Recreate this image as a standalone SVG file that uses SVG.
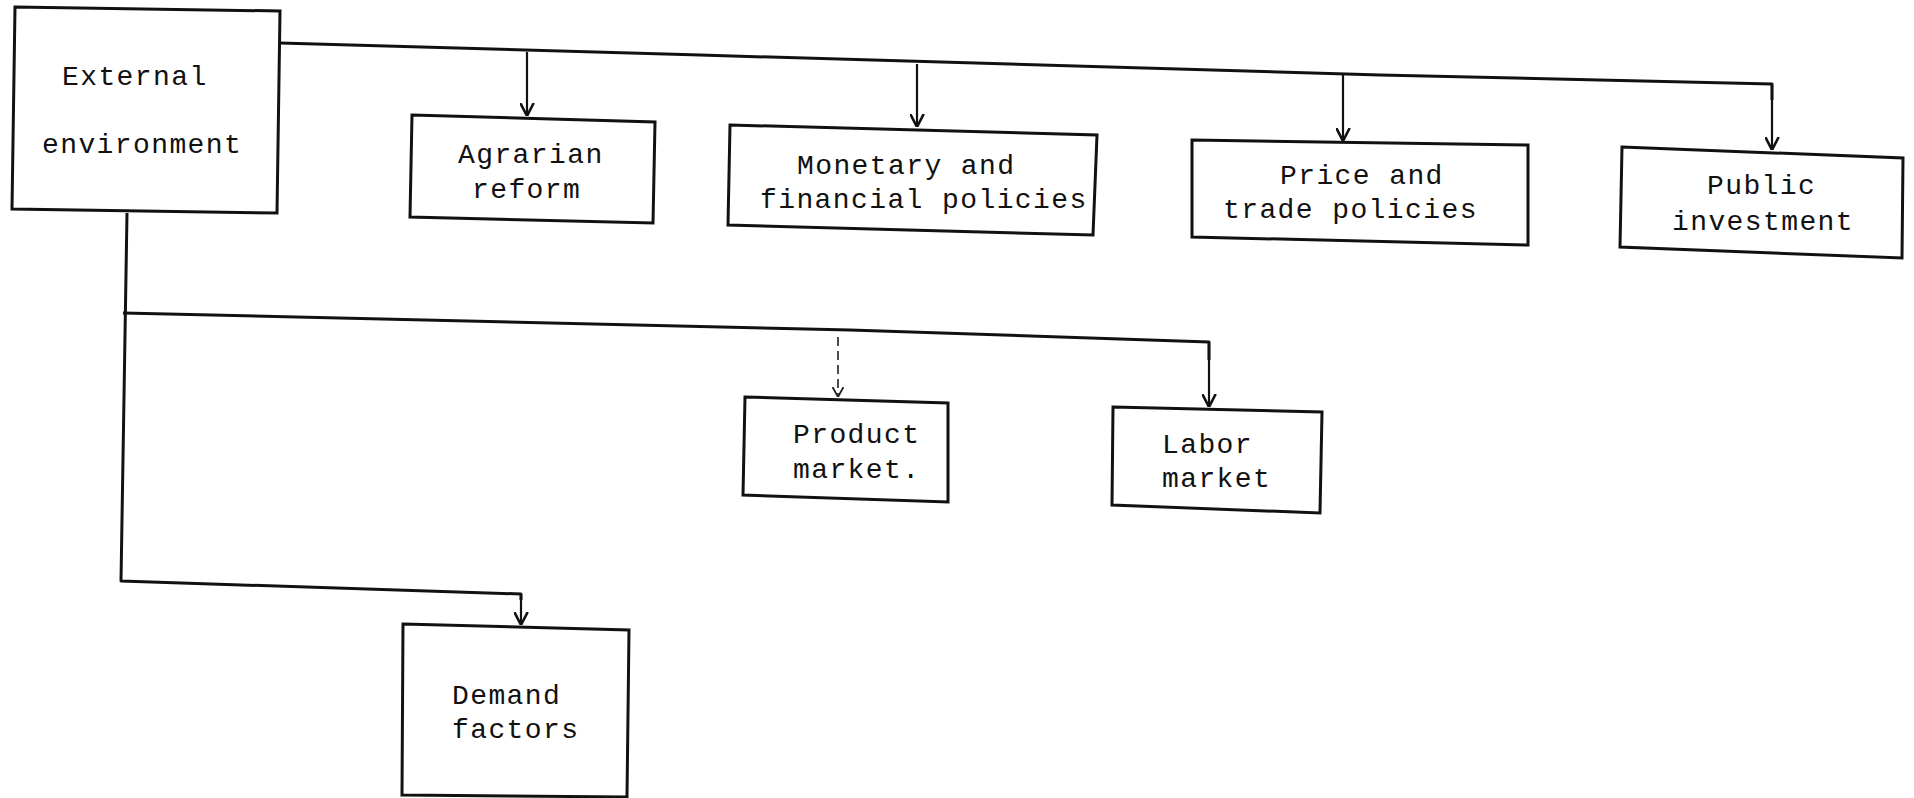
<svg xmlns="http://www.w3.org/2000/svg" width="1914" height="798" viewBox="0 0 1914 798">
<style>
.box{fill:#fff;stroke:#111;stroke-width:3;stroke-linejoin:miter}
.ln{fill:none;stroke:#111;stroke-width:3;stroke-linejoin:round}
.drop{fill:none;stroke:#111;stroke-width:2.2}
.dash{fill:none;stroke:#222;stroke-width:1.6;stroke-dasharray:9 5}
.t{font-family:"Liberation Mono","Courier New",monospace;font-size:28px;letter-spacing:1.4px;fill:#111}
</style>
<defs>
<marker id="ah" viewBox="0 0 13 15" refX="13" refY="7.5" markerWidth="13" markerHeight="15" markerUnits="userSpaceOnUse" orient="auto">
<path d="M0,0.8 L13,7.5 L0,14.2" fill="none" stroke="#111" stroke-width="2.6"/>
</marker>
<marker id="ahs" viewBox="0 0 10 12" refX="10" refY="6" markerWidth="10" markerHeight="12" markerUnits="userSpaceOnUse" orient="auto">
<path d="M0,0.5 L10,6 L0,11.5" fill="none" stroke="#222" stroke-width="1.8"/>
</marker>
</defs>
<rect width="1914" height="798" fill="#fff"/>
<g id="connectors">
<polyline class="ln" points="280,43 700,55 1380,75 1772,84 1772,100"/>
<line class="drop" x1="527" y1="52" x2="527" y2="116" marker-end="url(#ah)"/>
<line class="drop" x1="917" y1="64" x2="917" y2="127" marker-end="url(#ah)"/>
<line class="drop" x1="1343" y1="73" x2="1343" y2="141" marker-end="url(#ah)"/>
<line class="drop" x1="1772" y1="84" x2="1772" y2="150" marker-end="url(#ah)"/>
<polyline class="ln" points="127,213 121,581 521,594 521,600"/>
<line class="drop" x1="521" y1="594" x2="521" y2="625" marker-end="url(#ah)"/>
<polyline class="ln" points="123,313 850,330 1209,342 1209,360"/>
<line class="drop" x1="1209" y1="342" x2="1209" y2="407" marker-end="url(#ah)"/>
<line class="dash" x1="838" y1="337" x2="838" y2="397" marker-end="url(#ahs)"/>
</g>
<g id="external-environment">
<polygon class="box" points="15,7 280,11 277,213 12,209"/>
<text class="t" x="62" y="85">External</text>
<text class="t" x="42" y="153">environment</text>
</g>
<g id="agrarian-reform">
<polygon class="box" points="412,115 655,122 653,223 410,217"/>
<text class="t" x="458" y="163">Agrarian</text>
<text class="t" x="472" y="198">reform</text>
</g>
<g id="monetary-financial">
<polygon class="box" points="730,125 1097,135 1093,235 728,225"/>
<text class="t" x="797" y="174">Monetary and</text>
<text class="t" x="760" y="208">financial policies</text>
</g>
<g id="price-trade">
<polygon class="box" points="1192,140 1528,145 1528,245 1192,237"/>
<text class="t" x="1280" y="184">Price and</text>
<text class="t" x="1223" y="218">trade policies</text>
</g>
<g id="public-investment">
<polygon class="box" points="1622,147 1903,158 1902,258 1620,247"/>
<text class="t" x="1707" y="194">Public</text>
<text class="t" x="1672" y="230">investment</text>
</g>
<g id="product-market">
<polygon class="box" points="745,397 948,403 948,502 743,495"/>
<text class="t" x="793" y="443">Product</text>
<text class="t" x="793" y="478">market.</text>
</g>
<g id="labor-market">
<polygon class="box" points="1113,407 1322,412 1320,513 1112,505"/>
<text class="t" x="1162" y="453">Labor</text>
<text class="t" x="1162" y="487">market</text>
</g>
<g id="demand-factors">
<polygon class="box" points="403,624 629,630 627,797 402,795"/>
<text class="t" x="452" y="704">Demand</text>
<text class="t" x="452" y="738">factors</text>
</g>
</svg>
